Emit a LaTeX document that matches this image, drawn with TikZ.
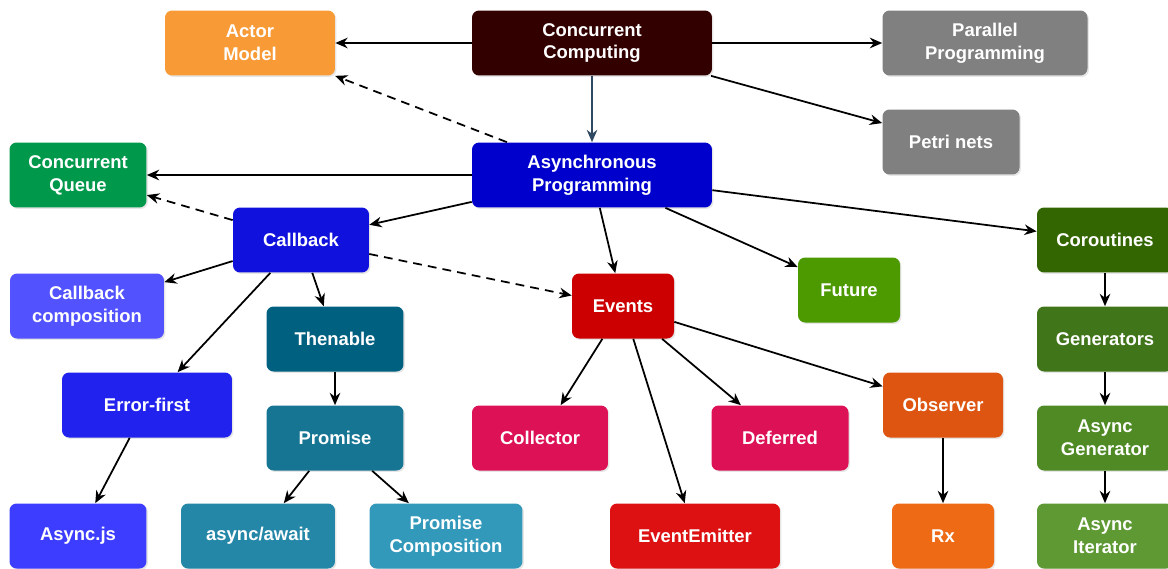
\documentclass[tikz,border=0pt]{standalone}
\usepackage{fontspec}
\setmainfont{Liberation Sans}
\usepackage{xcolor}
\usepackage{tikz}
\usetikzlibrary{arrows.meta,shadows}
\definecolor{cActor}{HTML}{F89A35}
\definecolor{cConc}{HTML}{330000}
\definecolor{cGray}{HTML}{808080}
\definecolor{cAsync}{HTML}{0000CC}
\definecolor{cQueue}{HTML}{00994C}
\definecolor{cCallback}{HTML}{1111DD}
\definecolor{cCbComp}{HTML}{5252FF}
\definecolor{cErrFirst}{HTML}{2222EE}
\definecolor{cAsyncJs}{HTML}{3D3DFF}
\definecolor{cThen}{HTML}{006080}
\definecolor{cPromise}{HTML}{177594}
\definecolor{cAwait}{HTML}{2487A8}
\definecolor{cPComp}{HTML}{3399BB}
\definecolor{cEvents}{HTML}{CC0000}
\definecolor{cPink}{HTML}{DD1155}
\definecolor{cEmitter}{HTML}{DD1111}
\definecolor{cFuture}{HTML}{4C9900}
\definecolor{cObserver}{HTML}{DD5511}
\definecolor{cRx}{HTML}{EE6A15}
\definecolor{cCorout}{HTML}{336600}
\definecolor{cGens}{HTML}{41751A}
\definecolor{cAGen}{HTML}{4F8A25}
\definecolor{cAIter}{HTML}{5E9933}
\definecolor{cDown}{HTML}{2E4A62}

\begin{document}
\begin{tikzpicture}[
  x=0.02cm, y=-0.02cm,
  every node/.style={rounded corners=4pt, minimum height=1.3cm, inner sep=2pt,
                     align=center, text=white,
                     font=\bfseries\fontsize{10.5}{13}\selectfont,
                     drop shadow={opacity=0.2, shadow xshift=0.8pt, shadow yshift=-0.8pt}},
  link/.style={draw=black, line width=1pt, -{Stealth[length=7pt,width=6pt]}},
  weak/.style={link, dash pattern=on 5pt off 3.5pt},
]
\useasboundingbox (0,0) rectangle (1168,568);

\node[fill=cActor, minimum width=3.40cm]    (actor)     at (250,43)  {Actor\\Model};
\node[fill=cConc, minimum width=4.80cm]     (concur)    at (592,43)  {Concurrent\\Computing};
\node[fill=cGray, minimum width=4.10cm]     (parallel)  at (985,43)  {Parallel\\Programming};
\node[fill=cGray, minimum width=2.74cm]     (petri)     at (951,142) {Petri nets};
\node[fill=cAsync, minimum width=4.80cm]    (async)     at (592,175) {Asynchronous\\Programming};
\node[fill=cQueue, minimum width=2.74cm]    (queue)     at (78,175)  {Concurrent\\Queue};
\node[fill=cCallback, minimum width=2.72cm] (callback)  at (301,240) {Callback};
\node[fill=cCbComp, minimum width=3.08cm]   (cbcomp)    at (87,306)  {Callback\\composition};
\node[fill=cThen, minimum width=2.74cm]     (thenable)  at (335,339) {Thenable};
\node[fill=cEvents, minimum width=2.04cm]   (events)    at (623,306) {Events};
\node[fill=cFuture, minimum width=2.04cm]   (future)    at (849,290) {Future};
\node[fill=cCorout, minimum width=2.72cm]   (corout)    at (1105,240) {Coroutines};
\node[fill=cGens, minimum width=2.72cm]     (gens)      at (1105,339) {Generators};
\node[fill=cAGen, minimum width=2.72cm]     (asyncgen)  at (1105,438) {Async\\Generator};
\node[fill=cAIter, minimum width=2.72cm]    (asynciter) at (1105,536) {Async\\Iterator};
\node[fill=cErrFirst, minimum width=3.40cm] (errfirst)  at (147,405) {Error-first};
\node[fill=cPromise, minimum width=2.74cm]  (promise)   at (335,438) {Promise};
\node[fill=cPink, minimum width=2.72cm]     (collector) at (540,438) {Collector};
\node[fill=cPink, minimum width=2.74cm]     (deferred)  at (780,438) {Deferred};
\node[fill=cObserver, minimum width=2.40cm] (observer)  at (943,405) {Observer};
\node[fill=cAsyncJs, minimum width=2.74cm]  (asyncjs)   at (78,536)  {Async.js};
\node[fill=cAwait, minimum width=3.08cm]    (asyncawait) at (258,536) {async/await};
\node[fill=cPComp, minimum width=3.06cm]    (pcomp)     at (446,536) {Promise\\Composition};
\node[fill=cEmitter, minimum width=3.40cm]  (emitter)   at (695,536) {EventEmitter};
\node[fill=cRx, minimum width=2.04cm]       (rx)        at (943,536) {Rx};

\draw[link] (concur) -- (actor);
\draw[link] (concur) -- (parallel);
\draw[link] (concur) -- (petri);
\draw[link, draw=cDown] (concur) -- (async);
\draw[weak] (async) -- (actor);
\draw[link] (async) -- (queue);
\draw[link] (async) -- (callback);
\draw[link] (async) -- (events);
\draw[link] (async) -- (future);
\draw[link] (async) -- (corout);
\draw[weak] (callback) -- (queue);
\draw[weak] (callback) -- (events);
\draw[link] (callback) -- (cbcomp);
\draw[link] (callback) -- (errfirst);
\draw[link] (callback) -- (thenable);
\draw[link] (thenable) -- (promise);
\draw[link] (promise) -- (asyncawait);
\draw[link] (promise) -- (pcomp);
\draw[link] (errfirst) -- (asyncjs);
\draw[link] (events) -- (collector);
\draw[link] (events) -- (emitter);
\draw[link] (events) -- (deferred);
\draw[link] (events) -- (observer);
\draw[link] (observer) -- (rx);
\draw[link] (corout) -- (gens);
\draw[link] (gens) -- (asyncgen);
\draw[link] (asyncgen) -- (asynciter);
\end{tikzpicture}
\end{document}
